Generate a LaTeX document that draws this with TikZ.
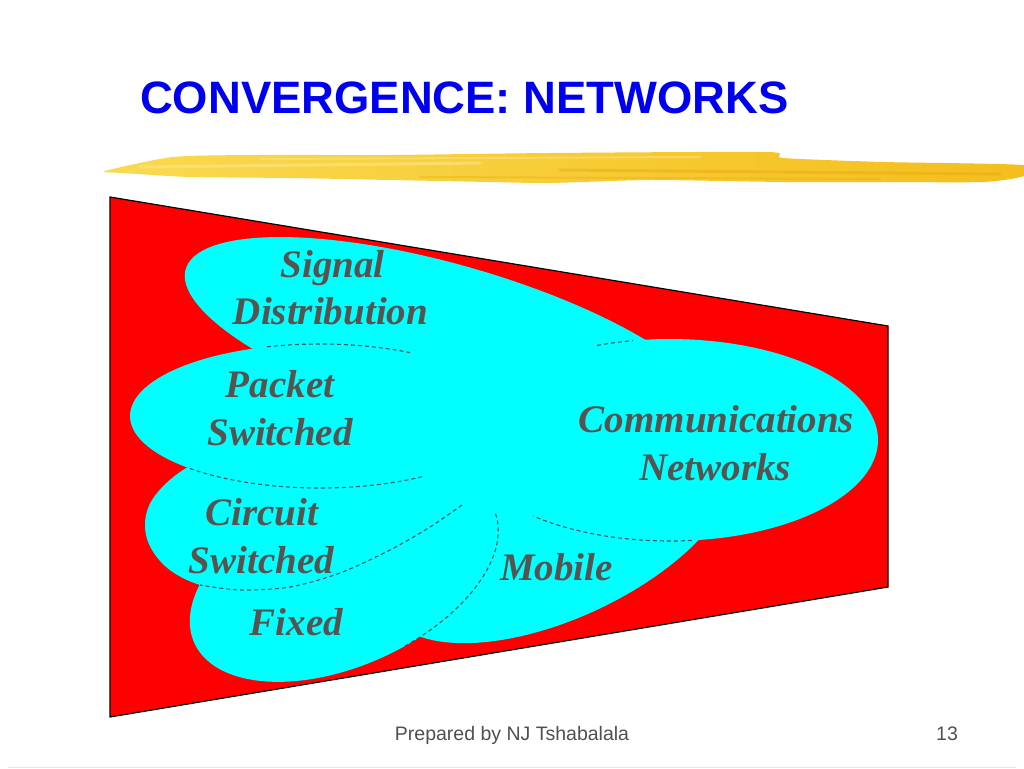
\documentclass[tikz,border=0pt]{standalone}
\usepackage{fontspec}
\setmainfont{Liberation Serif}
\newfontfamily\sansf{Liberation Sans}
\definecolor{titleblue}{RGB}{0,0,240}
\definecolor{lblgray}{RGB}{90,82,78}
\definecolor{footgray}{RGB}{80,80,80}
\definecolor{cyanfill}{RGB}{0,255,255}
\definecolor{redfill}{RGB}{255,0,0}
\definecolor{dashgray}{RGB}{70,85,92}
\definecolor{hlLight}{RGB}{249,218,80}
\definecolor{hlGold}{RGB}{244,190,28}
\definecolor{hlPale}{RGB}{252,230,140}
\definecolor{hlDark}{RGB}{232,168,12}
\newcommand{\ellpath}[7]{plot[domain=#6:#7,samples=120,variable=\myt]
 ({#1+#3*cos(\myt)*cos(#5)-#4*sin(\myt)*sin(#5)},{#2+#3*cos(\myt)*sin(#5)+#4*sin(\myt)*cos(#5)})}
\tikzset{
  petal/.style={fill=cyanfill, draw=none},
  dsh/.style={draw=dashgray, line width=1.1pt, dash pattern=on 4pt off 3pt},
  lbl/.style={font=\fontsize{39}{47}\selectfont\bfseries\itshape, text=lblgray, anchor=base, inner sep=0pt},
  foot/.style={font=\sansf\fontsize{19.5}{22}\selectfont, text=footgray, anchor=base, inner sep=0pt},
  titlestyle/.style={font=\sansf\bfseries\fontsize{45.4}{52}\selectfont, text=titleblue, anchor=base west, inner sep=0pt}
}
\begin{document}
\begin{tikzpicture}[x={(1pt,0)},y={(0,-1pt)}]
\useasboundingbox (0,0) rectangle (1024,768);
\fill[white] (0,0) rectangle (1024,768);
% title
\node[titlestyle] (title) at (140,113) {CONVERGENCE: NETWORKS};
% highlighter stroke
\shade[left color=hlLight, right color=hlGold]
  plot[smooth cycle, tension=0.4] coordinates {(105,171) (173,157) (257,155) (390,155) (550,153) (767,152) (783,158) (883,162) (1022,165) (1024,176) (983,182) (883,182) (783,182) (650,180) (550,183) (490,182) (390,180) (290,178) (190,177) (123,173)};
\draw[hlPale, line width=3pt, opacity=0.6, line cap=round] (140,167) -- (480,163);
\draw[hlPale, line width=2pt, opacity=0.5, line cap=round] (260,159) -- (700,157);
\draw[hlDark, line width=3pt, opacity=0.45, line cap=round] (560,170) -- (1000,174);
\draw[hlDark, line width=2pt, opacity=0.35, line cap=round] (420,177) -- (880,179);
% red trapezoid
\filldraw[fill=redfill, draw=black, line width=1.2pt] (110,197) -- (888,326) -- (888,587) -- (110,717) -- cycle;
% cyan petals
\fill[petal] \ellpath{450}{345}{275}{80}{16}{0}{360} -- cycle;          % signal
\fill[petal] \ellpath{560}{530}{190}{88}{-25}{0}{360} -- cycle;         % mobile
\fill[petal] \ellpath{344}{576}{164}{90}{-24}{0}{360} -- cycle;         % fixed
\fill[petal] plot[smooth cycle, tension=0.6] coordinates {(468,498) (430,527) (390,550) (340,573) (290,587) (240,590) (200,585) (165,566) (146,535) (152,500) (188,467) (240,450) (330,442) (420,455)}; % circuit
\fill[petal] \ellpath{320}{416}{190}{72}{0}{0}{360} -- cycle;           % packet
\fill[petal] \ellpath{670}{440}{208}{101}{0}{0}{360} -- cycle;          % communications
\fill[petal] \ellpath{460}{465}{60}{40}{0}{0}{360} -- cycle;            % centre
% dashed visible outlines
\draw[dsh] \ellpath{320}{416}{190}{72}{0}{253.8}{298.3};
\draw[dsh] \ellpath{320}{416}{190}{72}{0}{57.5}{134};
\draw[dsh] plot[smooth] coordinates {(462,505) (430,527) (390,550) (340,573) (290,587) (240,590) (200,585)};
\draw[dsh] \ellpath{344}{576}{164}{90}{-24}{3}{81};
\draw[dsh] \ellpath{670}{440}{208}{101}{0}{84}{131};
\draw[dsh] \ellpath{670}{440}{208}{101}{0}{249.5}{259.7};
% labels
\node[lbl] (sig1) at (332.5,277) {Signal};
\node[lbl] (sig2) at (330.5,324) {Distribution};
\node[lbl] (pck1) at (280,397) {Packet};
\node[lbl] (pck2) at (280,445) {Switched};
\node[lbl] (com1) at (716.5,432) {Communications};
\node[lbl] (com2) at (715,480) {Networks};
\node[lbl] (cir1) at (261.5,525) {Circuit};
\node[lbl] (cir2) at (261.5,573) {Switched};
\node[lbl] (fix) at (296.5,635) {Fixed};
\node[lbl] (mob) at (556.5,580) {Mobile};
% footer
\node[foot] (foot) at (512,740) {Prepared by NJ Tshabalala};
\node[foot] (page) at (947,740) {13};
\draw[black!10, line width=1pt] (8,767) -- (1016,767);
\end{tikzpicture}
\end{document}
